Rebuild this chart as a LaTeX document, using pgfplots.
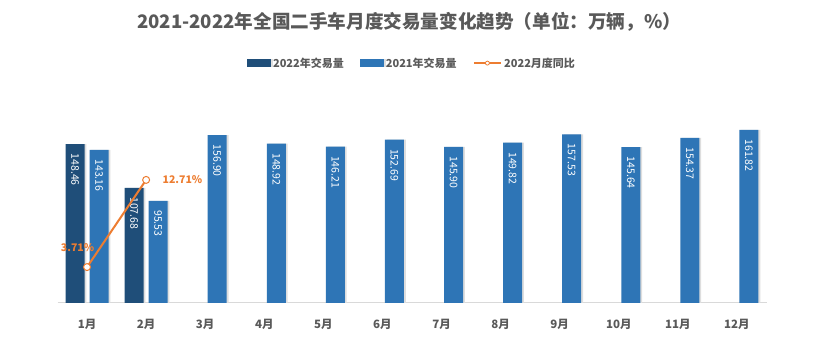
\documentclass[border=0pt]{standalone}
\usepackage{pgfplots}
\pgfplotsset{compat=1.18}
\usepackage{fontspec}
\setmainfont{Noto Sans CJK SC}
\definecolor{cA}{HTML}{1F4E79}
\definecolor{cB}{HTML}{2E75B6}
\definecolor{cO}{HTML}{ED7D31}
\definecolor{tg}{HTML}{595959}
\begin{document}
\begin{tikzpicture}[x=1pt,y=1pt]
\useasboundingbox (0,0) rectangle (818,353);
\node[font=\bfseries\fontsize{18.6}{18.6}\selectfont, text=tg] at (409,331) {2021-2022年全国二手车月度交易量变化趋势（单位：万辆，\%）};
\begin{axis}[
  at={(57.5pt,50pt)}, anchor=south west, scale only axis,
  width=709pt, height=214pt,
  xmin=0.5, xmax=12.5, ymin=0, ymax=200,
  axis y line=none, axis x line*=bottom,
  x axis line style={-, draw=black!15, line width=1pt},
  xtick={1,...,12},
  xticklabels={1月,2月,3月,4月,5月,6月,7月,8月,9月,10月,11月,12月},
  major tick length=0pt,
  xticklabel style={font=\bfseries\fontsize{11.5}{11.5}\selectfont, text=tg, yshift=-13pt},
  ybar, bar width=19pt,
  nodes near coords={\pgfmathprintnumber[fixed,fixed zerofill,precision=2,assume math mode=true]{\pgfplotspointmeta}},
  every node near coord/.append style={yshift=-6pt, rotate=-90, anchor=west, font=\fontsize{10.5}{10.5}\selectfont, text=white},
  legend columns=3,
  legend style={at={(0.5,1.121)}, anchor=center, draw=none, fill=none,
    font=\bfseries\fontsize{11}{11}\selectfont, text=tg,
    /tikz/every even column/.append style={column sep=14pt}},
  legend cell align=left,
]
\addplot[fill=cA, draw=none, bar shift=-12pt,
  preaction={fill=black!13, transform canvas={xshift=1.8pt}},
  legend image code/.code={\fill[cA] (0pt,-4pt) rectangle (24pt,4pt);}]
  coordinates {(1,148.46) (2,107.68)};
\addlegendentry{2022年交易量}
\addplot[fill=cB, draw=none, bar shift=12pt,
  preaction={fill=black!13, transform canvas={xshift=1.8pt}},
  legend image code/.code={\fill[cB] (0pt,-4pt) rectangle (24pt,4pt);}]
  coordinates {(1,143.16) (2,95.53) (3,156.90) (4,148.92) (5,146.21) (6,152.69)
               (7,145.90) (8,149.82) (9,157.53) (10,145.64) (11,154.37) (12,161.82)};
\addlegendentry{2021年交易量}
\addlegendimage{legend image code/.code={
  \draw[cO, line width=2.5pt] (0pt,0pt) -- (27pt,0pt);
  \fill[white, draw=cO, line width=0.8pt] (13.5pt,0pt) circle (2pt);}}
\addlegendentry{2022月度同比}
\end{axis}
\begin{axis}[
  at={(57.5pt,50pt)}, anchor=south west, scale only axis,
  width=709pt, height=214pt,
  xmin=0.5, xmax=12.5, ymin=0, ymax=22.1,
  hide axis,
]
\addplot[cO, line width=2pt, mark=*, mark size=3.5pt,
  mark options={fill=white, draw=cO, line width=1pt}]
  coordinates {(1,3.71) (2,12.71)};
\node[text=cO, font=\bfseries\fontsize{10.5}{10.5}\selectfont, xshift=-9.5pt, yshift=19pt] at (axis cs:1,3.71) {3.71\%};
\node[text=cO, font=\bfseries\fontsize{10.5}{10.5}\selectfont, anchor=west, xshift=13pt] at (axis cs:2,12.71) {12.71\%};
\end{axis}
\end{tikzpicture}
\end{document}
